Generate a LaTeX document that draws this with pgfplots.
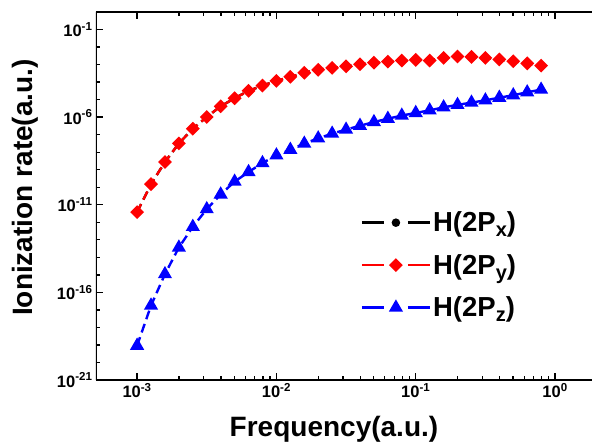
\documentclass[border=0pt]{standalone}
\usepackage{fontspec}
\setmainfont{Liberation Sans}
\usepackage{pgfplots}
\usepackage{pgfplotstable}
\pgfplotsset{compat=1.18}
\usetikzlibrary{calc}

% frequency, rate for 2Py (same as 2Px), rate for 2Pz
\pgfplotstableread{
x        py        pz
0.001    3.80e-12  9.12e-20
0.001259 1.51e-10  1.78e-17
0.001585 2.75e-9   1.10e-15
0.001995 3.16e-8   3.63e-14
0.002512 2.19e-7   5.50e-13
0.003162 1.02e-6   5.62e-12
0.003981 4.17e-6   3.89e-11
0.005012 1.20e-5   2.09e-10
0.00631  3.16e-5   7.41e-10
0.007943 6.31e-5   2.40e-9
0.01     1.17e-4   6.61e-9
0.01259  2.00e-4   1.38e-8
0.01585  3.39e-4   3.09e-8
0.01995  5.01e-4   6.17e-8
0.02512  6.46e-4   1.15e-7
0.03162  7.94e-4   1.95e-7
0.03981  1.05e-3   3.24e-7
0.05012  1.29e-3   5.25e-7
0.0631   1.48e-3   8.13e-7
0.07943  1.70e-3   1.23e-6
0.1      1.86e-3   1.74e-6
0.1259   1.70e-3   2.45e-6
0.1585   2.40e-3   3.63e-6
0.1995   2.88e-3   5.01e-6
0.2512   2.75e-3   6.76e-6
0.3162   2.40e-3   9.12e-6
0.3981   1.95e-3   1.29e-5
0.5012   1.55e-3   1.78e-5
0.631    1.17e-3   2.63e-5
0.7943   8.71e-4   3.72e-5
}\rates

\newcommand{\sub}[1]{\raisebox{-0.35ex}{\fontsize{20}{20}\selectfont #1}}

\begin{document}
\begin{tikzpicture}
\begin{axis}[
  name=ax,
  scale only axis,
  width=501pt, height=368pt,
  xmode=log, ymode=log,
  xmin=5.07e-4, xmax=2,
  ymin=1e-21, ymax=1,
  separate axis lines,
  x axis line style={line width=1.6pt},
  y axis line style={draw=none},
  every tick/.style={line width=1.3pt, black},
  tick align=inside,
  ytick pos=left,
  major tick length=7pt, minor tick length=4.5pt,
  xtick={1e-3,1e-2,1e-1,1},
  xticklabels={10\textsuperscript{-3},10\textsuperscript{-2},10\textsuperscript{-1},10\textsuperscript{0}},
  ytick={1e-21,1e-16,1e-11,1e-6,1e-1},
  yticklabels={10\textsuperscript{-21},10\textsuperscript{-16},10\textsuperscript{-11},10\textsuperscript{-6},10\textsuperscript{-1}},
  minor ytick={1e-20,1e-19,1e-18,1e-17,1e-15,1e-14,1e-13,1e-12,1e-10,1e-9,1e-8,1e-7,1e-5,1e-4,1e-3,1e-2,1},
  ticklabel style={font=\fontsize{16.5}{18}\selectfont\bfseries},
  xlabel={Frequency(a.u.)},
  ylabel={Ionization rate(a.u.)},
  label style={font=\fontsize{28}{30}\selectfont\bfseries},
  xlabel style={at={(axis description cs:0.475,-0.133)}, anchor=center},
  ylabel style={at={(axis description cs:-0.142,0.523)}, rotate=0, anchor=center},
  legend cell align=left,
  legend style={draw=none, fill=none, font=\fontsize{27.5}{29}\selectfont\bfseries,
    at={(axis description cs:0.522,0.468)}, anchor=north west, row sep=17pt},
  legend image code/.code={
    \draw[#1,solid,mark=none] (0pt,0pt) -- (22pt,0pt) (46pt,0pt) -- (68pt,0pt);
    \draw[#1,only marks] plot coordinates {(34pt,0pt)};
  },
]
\addplot[black, line width=2.4pt, dash pattern=on 9pt off 5pt,
  mark=*, mark size=3pt, mark options={solid}] table[x=x, y=py] {\rates};
\addlegendentry{H(2P\sub{x})}
\addplot[red, line width=2.4pt, dash pattern=on 9pt off 5pt,
  mark=square*, mark size=3.7pt, mark options={solid, rotate=45}] table[x=x, y=py] {\rates};
\addlegendentry{H(2P\sub{y})}
\addplot[blue, line width=2.4pt, dash pattern=on 9pt off 5pt,
  mark=triangle*, mark size=5.8pt, mark options={solid}] table[x=x, y=pz] {\rates};
\addlegendentry{H(2P\sub{z})}
\draw[line width=1.6pt] (rel axis cs:0,0) -- (rel axis cs:0,1);
\node[font=\fontsize{16}{18}\selectfont\bfseries] at (axis description cs:-0.174,0.035) {.};
\end{axis}
\pgfresetboundingbox
\path[use as bounding box] ($(ax.south west)+(-96pt,-63pt)$) rectangle ($(ax.north west)+(496pt,12pt)$);
\end{tikzpicture}
\end{document}
